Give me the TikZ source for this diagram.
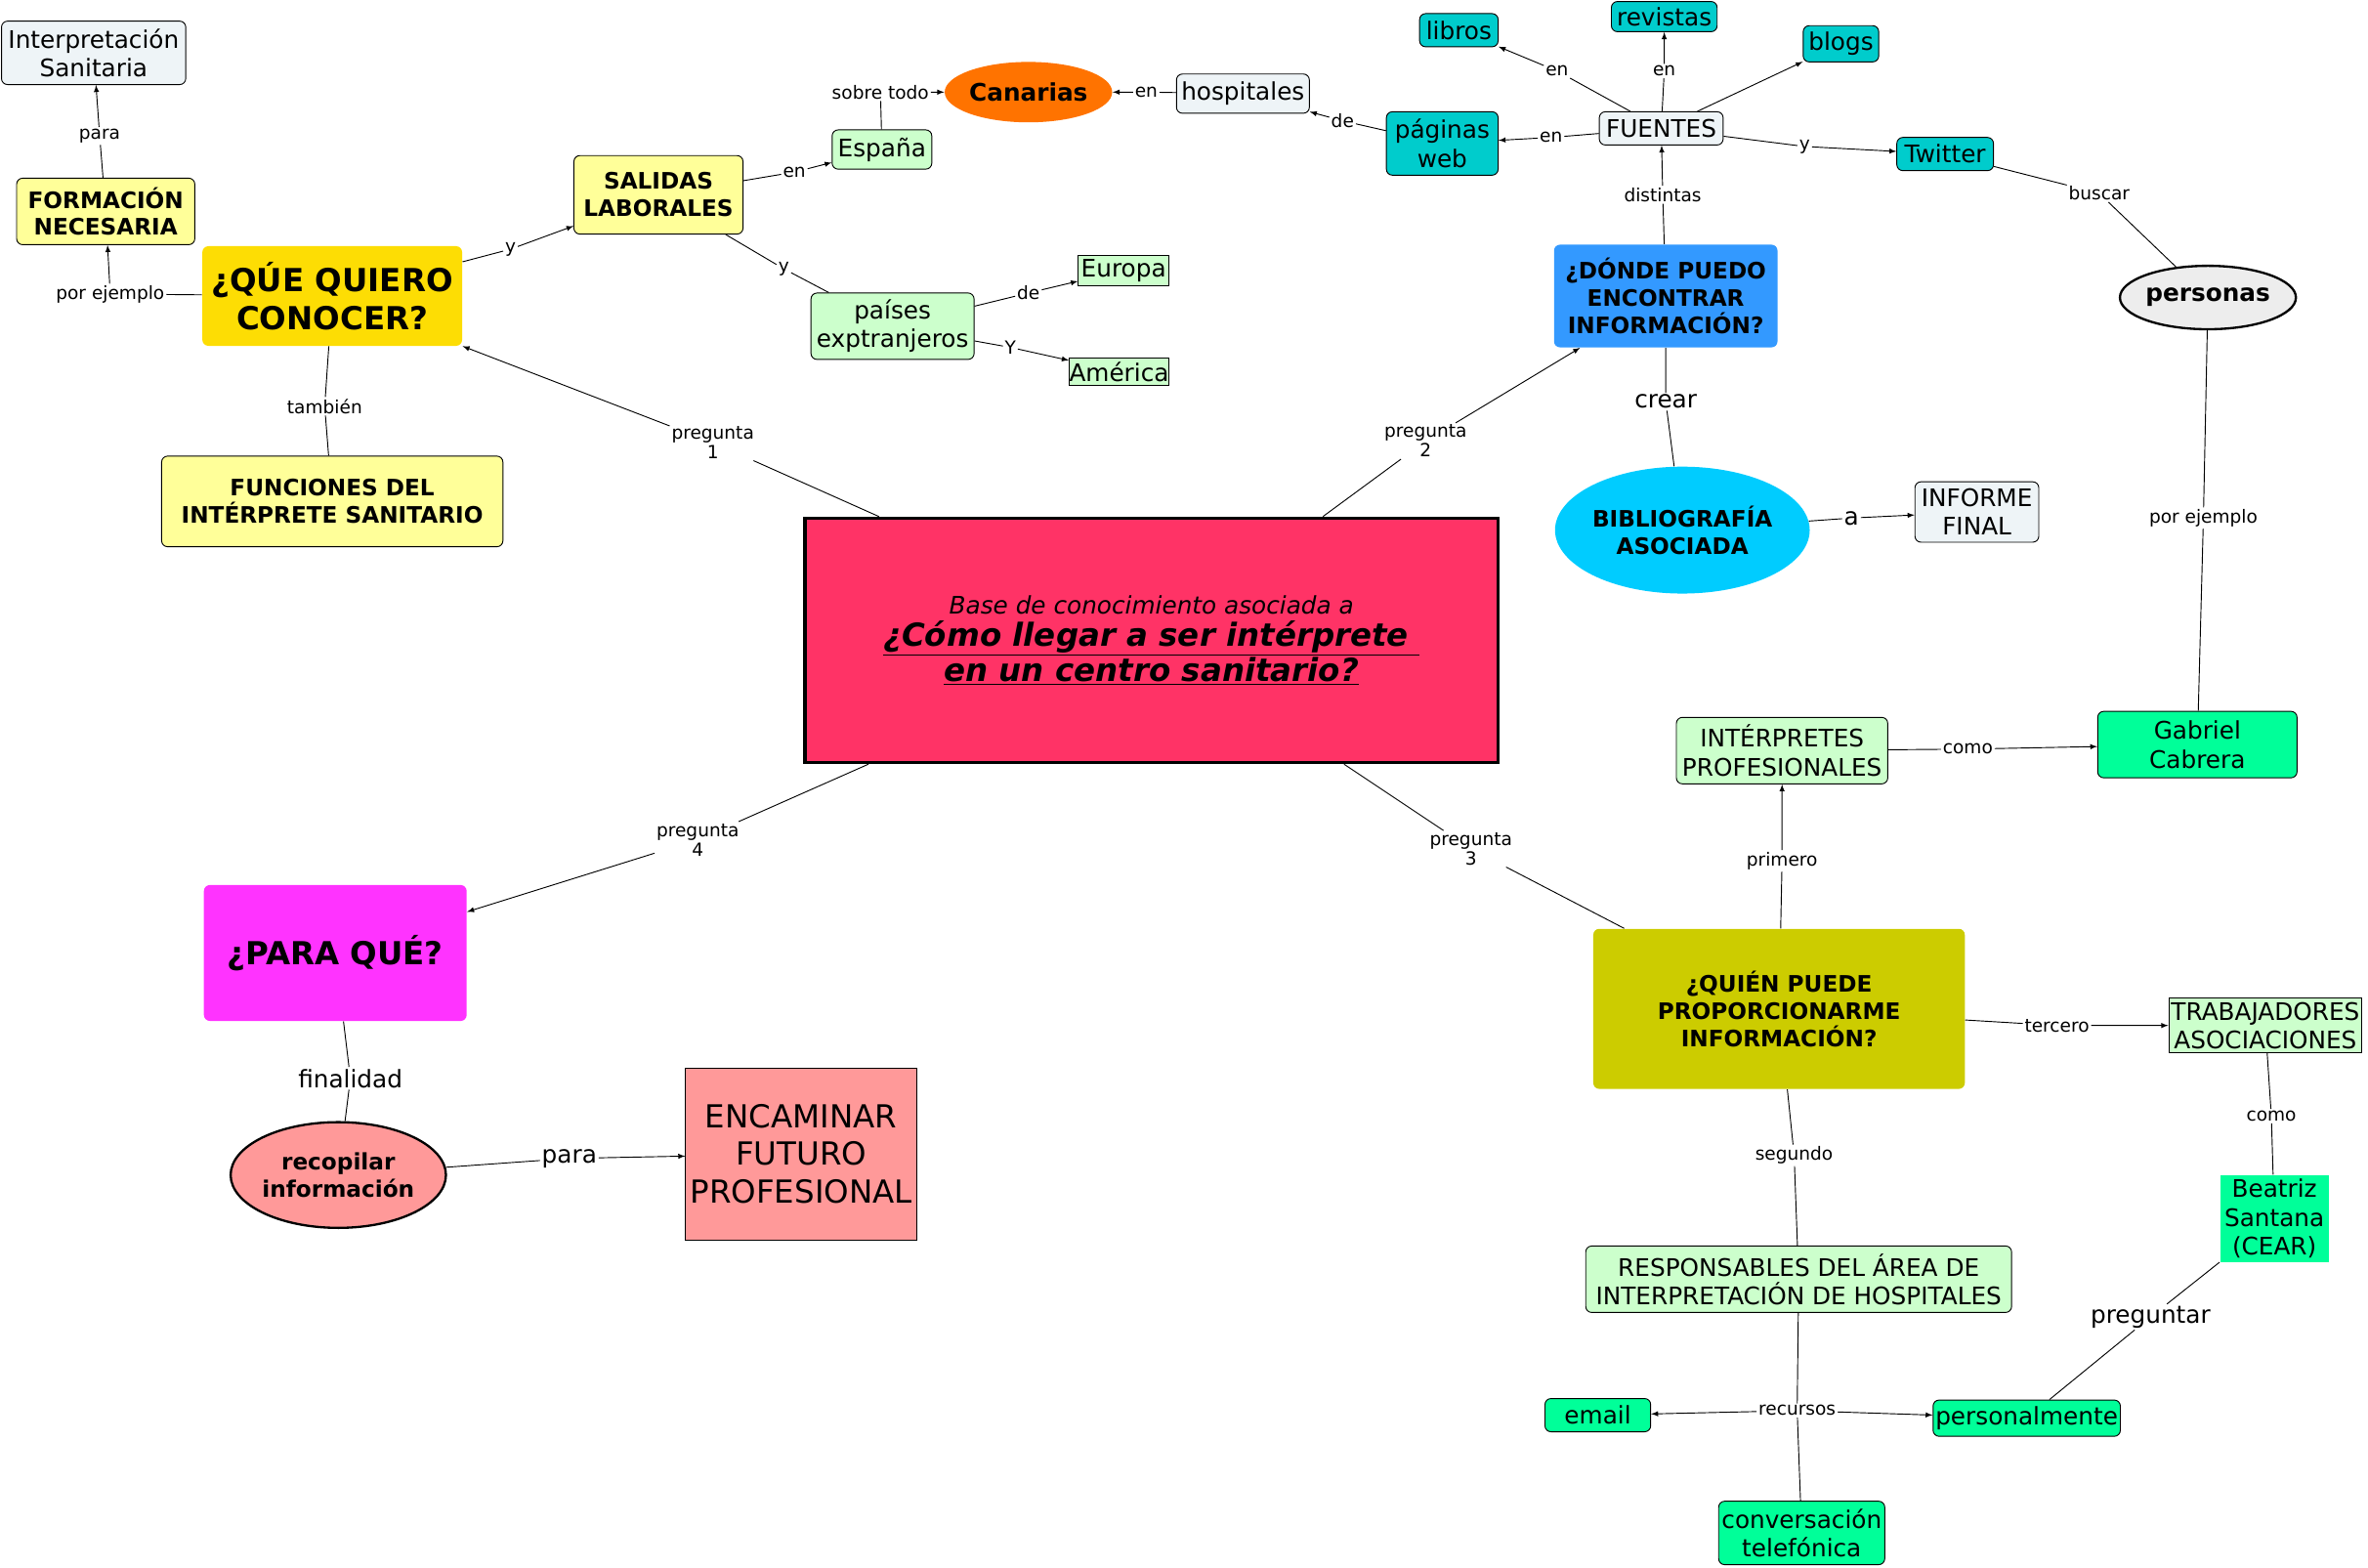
\documentclass[tikz,border=0pt]{standalone}
\usepackage{fontspec}
\setmainfont{DejaVu Sans}
\usetikzlibrary{shapes.geometric}
\definecolor{lb}{HTML}{EEF4F7}
\definecolor{ly}{HTML}{FFFF99}
\definecolor{lg}{HTML}{CCFFCC}
\definecolor{cy}{HTML}{00CCCC}
\definecolor{gr}{HTML}{00FF99}
\begin{document}
\begin{tikzpicture}[x=1pt,y=-1pt,
 box/.style={draw,rounded corners=4pt,align=center,inner sep=0pt,font=\fontsize{16}{19}\selectfont},
 sq/.style={draw,align=center,inner sep=0pt,font=\fontsize{16}{19}\selectfont},
 el/.style={draw,ellipse,align=center,inner sep=0pt,font=\fontsize{16}{19}\selectfont\bfseries},
 lbl/.style={fill=white,inner sep=1pt,align=center,font=\fontsize{12}{13}\selectfont},
 blbl/.style={fill=white,inner sep=1pt,font=\fontsize{16}{18}\selectfont},
 ar/.style={-latex},
 every path/.style={line width=0.6pt}]
\useasboundingbox (0,0) rectangle (1568,1038);
% nodes
\node[box,fill=lb,minimum width=122,minimum height=42] (interp) at (62,35) {Interpretación\\Sanitaria};
\node[box,fill=ly,minimum width=118,minimum height=44,font=\fontsize{15}{18}\selectfont\bfseries] (form) at (70,140) {FORMACIÓN\\NECESARIA};
\node[box,draw=none,fill=yellow!80!orange,minimum width=172,minimum height=66,font=\fontsize{21}{25}\selectfont\bfseries] (quiero) at (220,196) {¿QÚE QUIERO\\CONOCER?};
\node[box,fill=ly,minimum width=226,minimum height=60,font=\fontsize{15}{18}\selectfont\bfseries] (func) at (220,332) {FUNCIONES DEL\\INTÉRPRETE SANITARIO};
\node[box,fill=ly,minimum width=112,minimum height=52,font=\fontsize{15}{18}\selectfont\bfseries] (sal) at (436,129) {SALIDAS\\LABORALES};
\node[box,fill=lg,minimum width=66,minimum height=26] (esp) at (584,99) {España};
\node[el,draw=none,fill=orange!90!red,minimum width=90,minimum height=40] (can) at (681,61) {Canarias};
\node[box,fill=lb,minimum width=88,minimum height=26] (hosp) at (823,62) {hospitales};
\node[box,fill=lg,minimum width=108,minimum height=44] (paises) at (591,216) {países\\exptranjeros};
\node[sq,fill=lg,minimum width=60,minimum height=20] (eur) at (744,179) {Europa};
\node[sq,fill=lg,minimum width=66,minimum height=18] (ame) at (741,246) {América};
\node[box,fill=cy,minimum width=74,minimum height=42] (pag) at (955,95) {páginas\\web};
\node[box,fill=lb,minimum width=82,minimum height=22] (fuen) at (1100,85) {FUENTES};
\node[box,fill=cy,minimum width=52,minimum height=22] (lib) at (966,20) {libros};
\node[box,fill=cy,minimum width=70,minimum height=20] (rev) at (1102,11) {revistas};
\node[box,fill=cy,minimum width=50,minimum height=24] (blog) at (1219,29) {blogs};
\node[box,fill=cy,minimum width=64,minimum height=22] (tw) at (1288,102) {Twitter};
\node[box,draw=none,fill=blue!40!cyan!90,fill={rgb,255:red,51;green,153;blue,255},minimum width=148,minimum height=68,font=\fontsize{15}{18}\selectfont\bfseries] (donde) at (1103,196) {¿DÓNDE PUEDO\\ENCONTRAR\\INFORMACIÓN?};
\node[el,line width=1.5pt,fill=black!7,minimum width=94,minimum height=42] (pers) at (1462,197) {personas};
\node[el,draw=none,fill={rgb,255:red,0;green,204;blue,255},minimum width=160,minimum height=84,font=\fontsize{15}{18}\selectfont\bfseries] (bib) at (1114,351) {BIBLIOGRAFÍA\\ASOCIADA};
\node[box,fill=lb,minimum width=82,minimum height=40] (inf) at (1309,339) {INFORME\\FINAL};
\node[sq,line width=2pt,fill={rgb,255:red,255;green,51;blue,102},minimum width=459,minimum height=162] (main) at (762.5,424) {{\fontsize{16}{20}\selectfont\itshape Base de conocimiento asociada a}\\[2pt]{\fontsize{21}{25}\selectfont\bfseries\itshape\underline{¿Cómo llegar a ser intérprete }}\\{\fontsize{21}{25}\selectfont\bfseries\itshape\underline{en un centro sanitario?}}};
\node[box,fill=lg,minimum width=140,minimum height=44] (intp) at (1180,497) {INTÉRPRETES\\PROFESIONALES};
\node[box,fill=gr,minimum width=132,minimum height=44] (gab) at (1455,493) {Gabriel\\Cabrera};
\node[box,draw=none,fill={rgb,255:red,204;green,204;blue,0},minimum width=246,minimum height=106,font=\fontsize{15}{18}\selectfont\bfseries] (quien) at (1178,668) {¿QUIÉN PUEDE\\PROPORCIONARME\\INFORMACIÓN?};
\node[sq,fill=lg,minimum width=128,minimum height=36] (trab) at (1500,679) {TRABAJADORES\\ASOCIACIONES};
\node[sq,draw=none,fill=gr,minimum width=72,minimum height=58] (bea) at (1506,807) {Beatriz\\Santana\\(CEAR)};
\node[box,fill=lg,minimum width=282,minimum height=44] (resp) at (1191,847) {RESPONSABLES DEL ÁREA DE\\INTERPRETACIÓN DE HOSPITALES};
\node[box,fill=gr,minimum width=70,minimum height=22] (email) at (1058,937) {email};
\node[box,fill=gr,minimum width=124,minimum height=24] (perso) at (1342,939) {personalmente};
\node[box,fill=gr,minimum width=110,minimum height=42] (conv) at (1193,1015) {conversación\\telefónica};
\node[box,draw=none,fill={rgb,255:red,255;green,51;blue,255},minimum width=174,minimum height=90,font=\fontsize{21}{25}\selectfont\bfseries] (para) at (222,631) {¿PARA QUÉ?};
\node[el,line width=1.5pt,fill={rgb,255:red,255;green,153;blue,153},minimum width=130,minimum height=70,font=\fontsize{15}{18}\selectfont\bfseries] (rec) at (224,778) {recopilar\\información};
\node[sq,fill={rgb,255:red,255;green,153;blue,153},minimum width=153,minimum height=114,font=\fontsize{21}{25}\selectfont] (enc) at (530.5,764) {ENCAMINAR\\FUTURO\\PROFESIONAL};
% labels
\node[lbl] (l1) at (73,195) {por ejemplo};
\node[lbl] (l2) at (66,90) {para};
\node[lbl] (l3) at (338,165) {y};
\node[lbl] (l4) at (526,114) {en};
\node[lbl] (l5) at (519,178) {y};
\node[lbl] (l6) at (583,61) {sobre todo};
\node[lbl] (l7) at (759,61) {en};
\node[lbl] (l8) at (889,80) {de};
\node[lbl] (l9) at (681,194) {de};
\node[lbl] (l10) at (669,230) {Y};
\node[lbl] (l11) at (1027,91) {en};
\node[lbl] (l12) at (1031,47) {en};
\node[lbl] (l13) at (1102,47) {en};
\node[lbl] (l14) at (1195,97) {y};
\node[lbl] (l15) at (1101,129) {distintas};
\node[lbl] (l16) at (1390,128) {buscar};
\node[blbl] (l17) at (1103,266) {crear};
\node[blbl] (l18) at (1226,343) {a};
\node[lbl] (p1) at (472,293) {pregunta\\1};
\node[lbl] (p2) at (944,292) {pregunta\\2};
\node[lbl] (p3) at (974,562) {pregunta\\3};
\node[lbl] (p4) at (462,556) {pregunta\\4};
\node[lbl] (l19) at (215,269) {también};
\node[lbl] (l20) at (1180,570) {primero};
\node[lbl] (l21) at (1303,496) {como};
\node[lbl] (l22) at (1459,343) {por ejemplo};
\node[lbl] (l23) at (1362,679) {tercero};
\node[lbl] (l24) at (1504,739) {como};
\node[lbl] (l25) at (1188,765) {segundo};
\node[blbl] (l26) at (1424,872) {preguntar};
\node[lbl] (l27) at (1190,934) {recursos};
\node[blbl] (l28) at (232,714) {finalidad};
\node[blbl] (l29) at (377,767) {para};
% edges
\draw[ar] (quiero) -- (l1.east) (l1) -- (form);
\draw[ar] (form) -- (l2) -- (interp);
\draw[ar] (quiero) -- (l3) -- (sal);
\draw[ar] (sal) -- (l4) -- (esp);
\draw (sal) -- (l5) -- (paises);
\draw[ar] (esp) -- (l6) -- (can);
\draw[ar] (hosp) -- (l7) -- (can);
\draw[ar] (pag) -- (l8) -- (hosp);
\draw[ar] (paises) -- (l9) -- (eur);
\draw[ar] (paises) -- (l10) -- (ame);
\draw[ar] (fuen) -- (l11) -- (pag);
\draw[ar] (fuen) -- (l12) -- (lib);
\draw[ar] (fuen) -- (l13) -- (rev);
\draw[ar] (fuen) -- (blog);
\draw[ar] (fuen) -- (l14) -- (tw);
\draw[ar] (donde) -- (l15) -- (fuen);
\draw (pers) -- (l16) -- (tw);
\draw (donde) -- (l17) -- (bib);
\draw[ar] (bib) -- (l18) -- (inf);
\draw[ar] (main.north west) ++(50,0) -- (p1) -- (quiero);
\draw[ar] (main.north east) ++(-117,0) -- (p2) -- (donde);
\draw (main.south east) ++(-103,0) -- (p3) -- (quien);
\draw[ar] (main.south west) ++(43,0) -- (p4) -- (para);
\draw (quiero) -- (l19) -- (func);
\draw[ar] (quien) -- (l20) -- (intp);
\draw[ar] (intp) -- (l21) -- (gab);
\draw (pers) -- (l22) -- (gab);
\draw[ar] (quien) -- (l23) -- (trab);
\draw (trab) -- (l24) -- (bea);
\draw (quien) -- (l25) -- (resp);
\draw (bea) -- (l26) -- (perso);
\draw (resp) -- (l27) -- (conv);
\draw[ar] (l27) -- (email);
\draw[ar] (l27) -- (perso);
\draw (para) -- (l28) -- (rec);
\draw[ar] (rec) -- (l29) -- (enc);
\end{tikzpicture}
\end{document}
